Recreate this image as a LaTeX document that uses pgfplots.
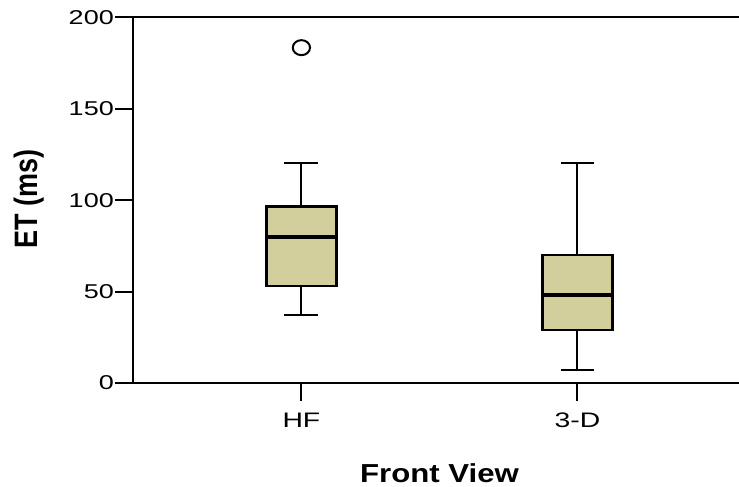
\documentclass[border=0pt]{standalone}
\usepackage{fontspec}
\setmainfont{Liberation Sans}
\newfontfamily\tickfont{Liberation Sans}[FakeStretch=1.35]
\newfontfamily\labfont{Liberation Sans}[FakeStretch=1.2]
\usepackage{graphicx}
\usepackage{pgfplots}
\pgfplotsset{compat=1.18}
\usepgfplotslibrary{statistics}
\definecolor{boxfill}{RGB}{211,207,156}

\begin{document}
\begin{tikzpicture}
\useasboundingbox (0,0) rectangle (739pt,487pt);
\begin{axis}[
  at={(133pt,104pt)}, anchor=south west,
  scale only axis, width=606pt, height=365.5pt,
  xmin=0.39, xmax=2.585, ymin=0, ymax=200,
  axis x line*=box, axis y line*=left,
  axis line style={line width=2pt, black},
  xtick={1,2}, xticklabels={HF,3-D},
  ytick={0,50,100,150,200},
  xtick pos=left,
  tick align=outside, major tick length=18pt,
  tick style={line width=2pt, black},
  /pgf/number format/assume math mode=true,
  ticklabel style={font=\tickfont\fontsize{20}{24}\selectfont},
  yticklabel style={inner sep=0pt, xshift=-1pt},
  xticklabel style={inner sep=0pt, yshift=-12pt, font=\tickfont\fontsize{21}{25}\selectfont},
  xlabel={\labfont\fontsize{26}{30}\selectfont\bfseries Front View},
  xlabel style={at={(axis description cs:0.5058,-0.2460)}, anchor=center, inner sep=0pt},
  ylabel={\scalebox{1}[1.2]{\fontsize{27}{32}\selectfont\bfseries ET (ms)}},
  ylabel style={at={(axis description cs:-0.1716,0.503)}, anchor=center, inner sep=0pt},
  boxplot/draw direction=y,
  boxplot/every box/.style={draw=black, line width=2.4pt, fill=boxfill},
  boxplot/every whisker/.style={draw=black, line width=2pt},
  boxplot/every median/.style={draw=black, line width=4.3pt},
]
\addplot[boxplot prepared={draw position=1, lower whisker=37.4, lower quartile=53.1,
  median=79.7, upper quartile=96.5, upper whisker=120.2,
  box extend=0.254, whisker extend=0.123},
  draw=black, line width=2pt, mark=o, mark size=7.5pt,
  mark options={line width=2pt, xscale=1.15}]
  table[row sep=\\, y index=0] {183.5\\};
\addplot[boxplot prepared={draw position=2, lower whisker=7.1, lower quartile=29.0,
  median=48.0, upper quartile=70.2, upper whisker=120.5,
  box extend=0.254, whisker extend=0.123},
  draw=black, line width=2pt]
  coordinates {};
\end{axis}
\end{tikzpicture}
\end{document}
